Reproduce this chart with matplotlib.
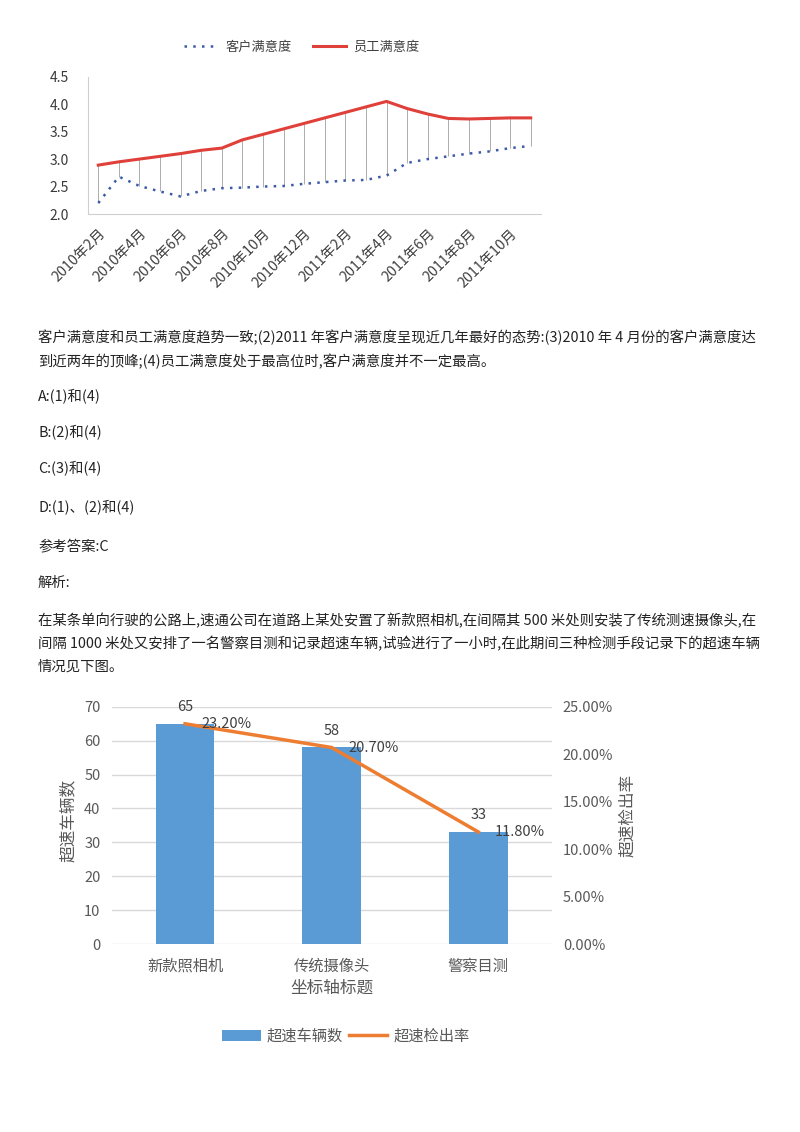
import matplotlib
matplotlib.use("Agg")
import matplotlib.pyplot as plt
from matplotlib.lines import Line2D
from matplotlib.patches import Patch

plt.rcParams['font.family'] = ['Noto Sans CJK SC', 'DejaVu Sans']

W, H = 800, 1132

# ---------------- data ----------------
months = ['2010年2月', '2010年3月', '2010年4月', '2010年5月', '2010年6月', '2010年7月',
          '2010年8月', '2010年9月', '2010年10月', '2010年11月', '2010年12月', '2011年1月',
          '2011年2月', '2011年3月', '2011年4月', '2011年5月', '2011年6月', '2011年7月',
          '2011年8月', '2011年9月', '2011年10月', '2011年11月']
employee_sat = [2.89, 2.95, 3.00, 3.05, 3.10, 3.16, 3.20, 3.35, 3.45, 3.55, 3.65, 3.75,
                3.85, 3.95, 4.05, 3.92, 3.82, 3.74, 3.73, 3.74, 3.75, 3.75]
customer_sat = [2.20, 2.68, 2.51, 2.41, 2.32, 2.42, 2.47, 2.48, 2.50, 2.51, 2.55, 2.58,
                2.61, 2.62, 2.70, 2.93, 3.00, 3.05, 3.10, 3.14, 3.20, 3.24]
top_legend = ['客户满意度', '员工满意度']

methods = ['新款照相机', '传统摄像头', '警察目测']
speeding_counts = [65, 58, 33]
detect_rate = [23.2, 20.7, 11.8]
bottom_legend = ['超速车辆数', '超速检出率']

text_lines = [
    '客户满意度和员工满意度趋势一致;(2)2011 年客户满意度呈现近几年最好的态势:(3)2010 年 4 月份的客户满意度达',
    '到近两年的顶峰;(4)员工满意度处于最高位时,客户满意度并不一定最高。',
    'A:(1)和(4)',
    'B:(2)和(4)',
    'C:(3)和(4)',
    'D:(1)、(2)和(4)',
    '参考答案:C',
    '解析:',
    '在某条单向行驶的公路上,速通公司在道路上某处安置了新款照相机,在间隔其 500 米处则安装了传统测速摄像头,在',
    '间隔 1000 米处又安排了一名警察目测和记录超速车辆,试验进行了一小时,在此期间三种检测手段记录下的超速车辆',
    '情况见下图。',
]
text_y = [337, 361, 397, 433, 469, 508, 546, 583, 621, 644, 667]

fig = plt.figure(figsize=(W / 100, H / 100), dpi=100)
fig.patch.set_facecolor('white')


def rect(x0, y0, x1, y1):
    return [x0 / W, 1 - y1 / H, (x1 - x0) / W, (y1 - y0) / H]


def fx(x):
    return x / W


def fy(y):
    return 1 - y / H


# ---------------- top chart ----------------
ax1 = fig.add_axes(rect(88, 76.7, 541, 214))
x = list(range(len(months)))
ax1.vlines(x, customer_sat, employee_sat, color='#a0a0a0', lw=0.6, zorder=1)
ax1.plot(x, customer_sat, color='#3b5ba5', lw=1.8, linestyle=(0, (1, 2.5)), zorder=2)
ax1.plot(x, employee_sat, color='#e0403a', lw=2.2, zorder=3)
ax1.set_xlim(-0.5, len(months) - 0.5)
ax1.set_ylim(2.0, 4.5)
ax1.set_yticks([2.0, 2.5, 3.0, 3.5, 4.0, 4.5])
ax1.set_yticklabels([f'{v:.1f}' for v in [2.0, 2.5, 3.0, 3.5, 4.0, 4.5]],
                    fontsize=10, color='#3a3a3a')
ax1.set_xticks(x[::2])
ax1.set_xticklabels(months[::2], rotation=45, ha='right', va='top',
                    rotation_mode='anchor', fontsize=10.3, color='#404040')
ax1.tick_params(axis='both', length=0)
ax1.tick_params(axis='y', pad=14)
ax1.tick_params(axis='x', pad=9)
for s in ['top', 'right']:
    ax1.spines[s].set_visible(False)
ax1.spines['left'].set_color('#cfcfcf')
ax1.spines['left'].set_linewidth(0.8)
ax1.spines['bottom'].set_color('#cfcfcf')
ax1.spines['bottom'].set_linewidth(0.8)
ax1.patch.set_alpha(0)

h_top = [Line2D([], [], color='#3b5ba5', lw=1.8, linestyle=(0, (1, 2.5))),
         Line2D([], [], color='#e0403a', lw=2.2)]
fig.legend(h_top, top_legend, loc='center', bbox_to_anchor=(fx(302), fy(47)),
           ncol=2, frameon=False, fontsize=9.5, handlelength=2.5,
           handletextpad=0.6, columnspacing=1.6, labelcolor='#404040')

# ---------------- text ----------------
for t, yy in zip(text_lines, text_y):
    fig.text(fx(38), fy(yy), t, fontsize=10.35, color='#222222', ha='left', va='center')

# ---------------- bottom chart ----------------
ax2 = fig.add_axes(rect(111.7, 706.7, 551.7, 944))
xb = list(range(len(methods)))
ax2.set_axisbelow(True)
ax2.yaxis.grid(True, color='#d9d9d9', lw=1)
ax2.bar(xb, speeding_counts, width=0.4, color='#5B9BD5', zorder=2)
ax2.set_xlim(-0.5, len(methods) - 0.5)
ax2.set_ylim(0, 70)
ax2.set_yticks(range(0, 71, 10))
ax2.tick_params(axis='y', length=0, labelsize=10.5, labelcolor='#595959', pad=8)
ax2.set_xticks(xb)
ax2.set_xticklabels(methods, fontsize=11, color='#595959')
ax2.tick_params(axis='x', length=0, pad=10)
for s in ax2.spines.values():
    s.set_visible(False)
for i, v in zip(xb, speeding_counts):
    ax2.annotate(str(v), (i, v), xytext=(0, 7), textcoords='offset points',
                 ha='center', va='bottom', fontsize=10.5, color='#404040')

ax3 = ax2.twinx()
ax3.plot(xb, [r / 100 for r in detect_rate], color='#ED7D31', lw=2.5, zorder=3)
ax3.set_ylim(0, 0.25)
ax3.set_yticks([0, 0.05, 0.10, 0.15, 0.20, 0.25])
ax3.set_yticklabels([f'{v * 100:.2f}%' for v in [0, 0.05, 0.10, 0.15, 0.20, 0.25]])
ax3.tick_params(axis='y', length=0, labelsize=10.5, labelcolor='#595959', pad=8)
for s in ax3.spines.values():
    s.set_visible(False)
for i, r in zip(xb, detect_rate):
    ax3.annotate(f'{r:.2f}%', (i, r / 100), xytext=(12, 0), textcoords='offset points',
                 ha='left', va='center', fontsize=10.5, color='#404040')

fig.text(fx(332), fy(988), '坐标轴标题', fontsize=12, color='#595959', ha='center', va='center')
fig.text(fx(68), fy(820), '超速车辆数', fontsize=12, color='#595959', ha='center', va='center',
         rotation=90)
fig.text(fx(628), fy(815), '超速检出率', fontsize=12, color='#595959', ha='center', va='center',
         rotation=90)

h_bot = [Patch(facecolor='#5B9BD5'), Line2D([], [], color='#ED7D31', lw=2.5)]
fig.legend(h_bot, bottom_legend, loc='center', bbox_to_anchor=(fx(346), fy(1036)),
           ncol=2, frameon=False, fontsize=11, handlelength=2.5, handleheight=0.7,
           handletextpad=0.4, columnspacing=0.4, labelcolor='#595959')

fig.savefig('out.png', dpi=100, facecolor='white')
